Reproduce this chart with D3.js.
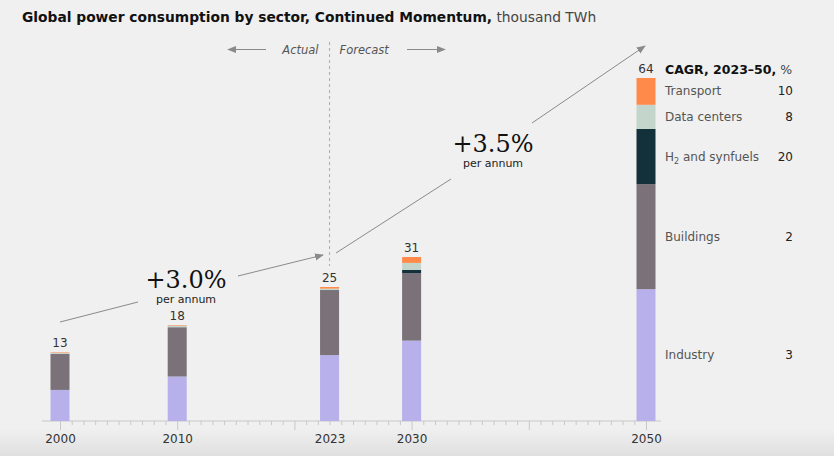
<!DOCTYPE html>
<html>
<head>
<meta charset="utf-8">
<script src="https://cdn.jsdelivr.net/npm/d3@7"></script>
<style>
  body { margin: 0; background: #f0f0f0; }
  svg { display: block; font-family: "DejaVu Sans", sans-serif; }
</style>
</head>
<body>
<svg width="834" height="456"></svg>
<script>
// Power consumption by sector, thousand TWh
const years = [2000, 2010, 2023, 2030, 2050];
const industry = [5.8, 8.3, 12.3, 15.0, 24.6];
const buildings = [6.7, 9.2, 12.1, 12.6, 19.6];
const h2 = [0, 0, 0.05, 0.6, 10.3];
const dataCenters = [0.2, 0.3, 0.25, 1.3, 4.5];
const transport = [0.1, 0.1, 0.3, 1.1, 5.0];
const totals = ["13", "18", "25", "31", "64"];

const sectors = ["Industry", "Buildings", "H2 and synfuels", "Data centers", "Transport"];
const cagr = ["3", "2", "20", "8", "10"];
const colors = ["#b8b0ea", "#7a7179", "#12313a", "#c4d5cb", "#ff8a4a"];
const labelledYears = [2000, 2010, 2023, 2030, 2050];

const svg = d3.select("svg");
const width = +svg.attr("width");
const height = +svg.attr("height");

// bottom shade
const defs = svg.append("defs");
const grad = defs.append("linearGradient").attr("id", "shade")
    .attr("x1", 0).attr("y1", 0).attr("x2", 0).attr("y2", 1);
grad.append("stop").attr("offset", "0%").attr("stop-color", "#000").attr("stop-opacity", 0);
grad.append("stop").attr("offset", "100%").attr("stop-color", "#000").attr("stop-opacity", 0.07);
svg.append("rect").attr("x", 0).attr("y", 428).attr("width", width).attr("height", height - 428)
    .attr("fill", "url(#shade)");

defs.append("marker").attr("id", "arr")
    .attr("viewBox", "0 0 10 10").attr("refX", 9).attr("refY", 5)
    .attr("markerWidth", 9).attr("markerHeight", 9).attr("orient", "auto")
    .attr("markerUnits", "userSpaceOnUse")
  .append("path").attr("d", "M0,1 L10,5 L0,9 Z").attr("fill", "#8a8a8a");

const x = d3.scaleLinear().domain([2000, 2050]).range([60, 646]);
const y = d3.scaleLinear().domain([0, 64]).range([421, 78]);
const barW = 19;

// title
const title = svg.append("text").attr("x", 22).attr("y", 22).attr("font-size", 13.8).attr("fill", "#111");
title.append("tspan").attr("font-weight", "bold").text("Global power consumption by sector, Continued Momentum,");
title.append("tspan").attr("fill", "#444").text(" thousand TWh");

// actual / forecast divider
svg.append("line").attr("x1", x(2023)).attr("x2", x(2023)).attr("y1", 42).attr("y2", 266)
    .attr("stroke", "#aaa").attr("stroke-dasharray", "3,3");
svg.append("text").attr("x", x(2023) - 11).attr("y", 54).attr("text-anchor", "end")
    .attr("font-size", 11.5).attr("font-style", "italic").attr("fill", "#555").text("Actual");
svg.append("text").attr("x", x(2023) + 10).attr("y", 54)
    .attr("font-size", 11.5).attr("font-style", "italic").attr("fill", "#555").text("Forecast");
svg.append("line").attr("x1", 266).attr("x2", 228).attr("y1", 49.5).attr("y2", 49.5)
    .attr("stroke", "#8a8a8a").attr("marker-end", "url(#arr)");
svg.append("line").attr("x1", 407).attr("x2", 445).attr("y1", 49.5).attr("y2", 49.5)
    .attr("stroke", "#8a8a8a").attr("marker-end", "url(#arr)");

// axis
const xAxis = d3.axisBottom(x)
    .tickValues(d3.range(2000, 2051))
    .tickSize(4)
    .tickFormat(d => labelledYears.includes(d) ? d : "");
const axisG = svg.append("g").attr("transform", "translate(0,421)").call(xAxis);
axisG.select(".domain").remove();
axisG.selectAll(".tick line").attr("stroke", "#c8c8c8")
    .attr("y2", d => d % 10 === 0 ? 9 : 4);
axisG.selectAll(".tick text").attr("y", 13).attr("font-size", 12)
    .attr("font-family", "DejaVu Sans, sans-serif").attr("fill", "#333");
axisG.append("line").attr("x1", 42).attr("x2", 661).attr("stroke", "#c8c8c8");

// stacked bars
const rows = years.map((yr, i) => ({
  year: yr,
  "Industry": industry[i],
  "Buildings": buildings[i],
  "H2 and synfuels": h2[i],
  "Data centers": dataCenters[i],
  "Transport": transport[i]
}));
const series = d3.stack().keys(sectors)(rows);
const color = d3.scaleOrdinal().domain(sectors).range(colors);

svg.append("g").selectAll("g").data(series).join("g")
    .attr("fill", s => color(s.key))
  .selectAll("rect").data(d => d).join("rect")
    .attr("x", d => x(d.data.year) - barW / 2)
    .attr("y", d => y(d[1]))
    .attr("width", barW)
    .attr("height", d => y(d[0]) - y(d[1]));

svg.append("g").selectAll("text").data(rows).join("text")
    .attr("x", d => x(d.year))
    .attr("y", d => y(d3.sum(sectors, k => d[k])) - 5)
    .attr("text-anchor", "middle").attr("font-size", 12).attr("fill", "#333")
    .text((d, i) => totals[i]);

// legend
const last = series.map(s => s[s.length - 1]);
svg.append("text").attr("x", 665).attr("y", 74).attr("font-size", 12.5).attr("fill", "#111")
  .call(t => {
    t.append("tspan").attr("font-weight", "bold").text("CAGR, 2023\u201350,");
    t.append("tspan").attr("fill", "#444").text(" %");
  });
const leg = svg.append("g").selectAll("g").data(sectors).join("g")
    .attr("transform", (d, i) => `translate(0,${(y(last[i][0]) + y(last[i][1])) / 2 + 4})`);
leg.append("text").attr("x", 665).attr("font-size", 12).attr("fill", "#555")
    .each(function(d) {
      const t = d3.select(this);
      if (d.startsWith("H2")) {
        t.append("tspan").text("H");
        t.append("tspan").attr("font-size", 8).attr("dy", 3).text("2");
        t.append("tspan").attr("dy", -3).text(" and synfuels");
      } else t.text(d);
    });
leg.append("text").attr("x", 793).attr("text-anchor", "end").attr("font-size", 12)
    .attr("fill", "#222").text((d, i) => cagr[i]);

// growth annotations
const ann = [
  { segs: [[60, 322, 138, 302], [238, 276, 323, 255]], big: "+3.0%", cx: 186, cy: 288 },
  { segs: [[336, 253, 451, 179], [532, 123, 645, 46]], big: "+3.5%", cx: 493, cy: 152 }
];
ann.forEach(a => {
  a.segs.forEach((s, j) => {
    svg.append("line").attr("x1", s[0]).attr("y1", s[1]).attr("x2", s[2]).attr("y2", s[3])
        .attr("stroke", "#8a8a8a").attr("stroke-width", 1)
        .attr("marker-end", j === 1 ? "url(#arr)" : null);
  });
  svg.append("text").attr("x", a.cx).attr("y", a.cy).attr("text-anchor", "middle")
      .attr("font-family", "DejaVu Serif, serif").attr("font-size", 24).attr("fill", "#111")
      .text(a.big);
  svg.append("text").attr("x", a.cx).attr("y", a.cy + 15).attr("text-anchor", "middle")
      .attr("font-size", 11).attr("fill", "#222").text("per annum");
});
</script>
</body>
</html>
